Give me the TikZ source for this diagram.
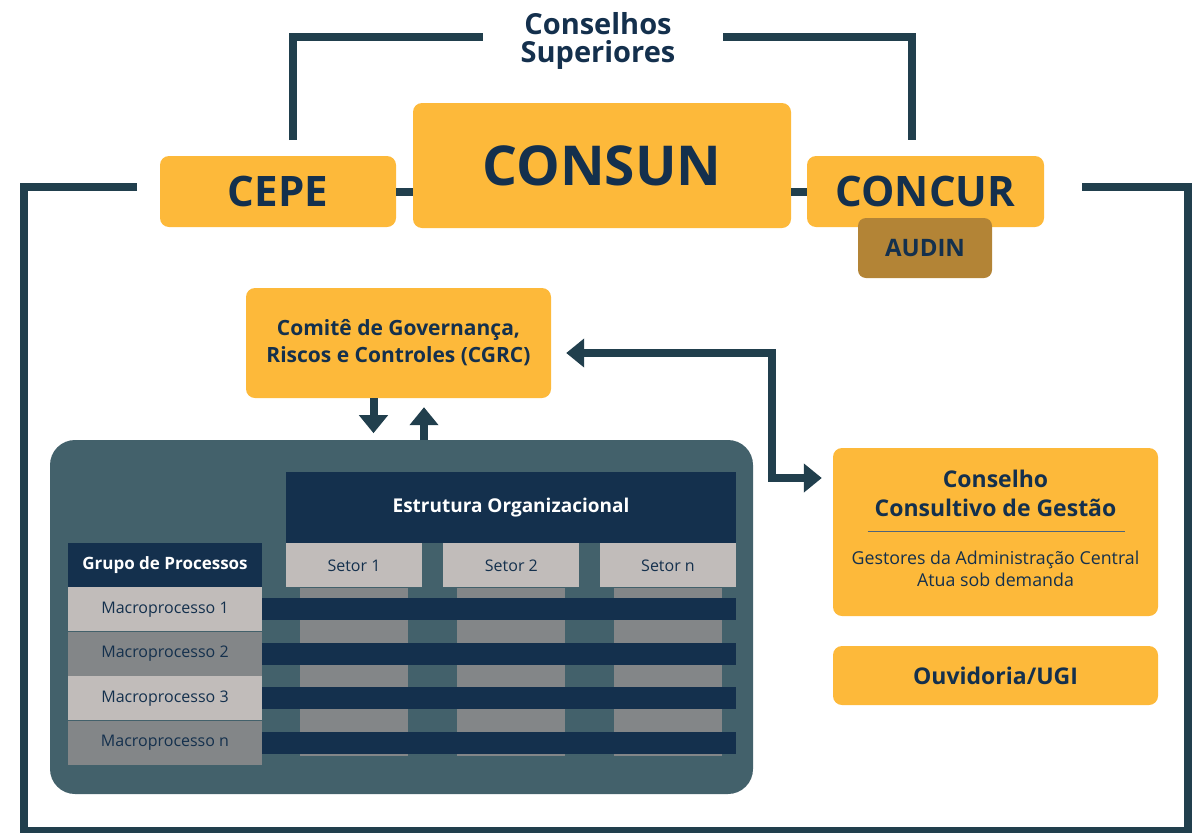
\documentclass[tikz,border=0pt]{standalone}
\usepackage{fontspec}
\setmainfont{Open Sans}
\usetikzlibrary{arrows.meta}
\usetikzlibrary{calc}
\usetikzlibrary{positioning}
\definecolor{govyellow}{HTML}{FDB93A}
\definecolor{govnavy}{HTML}{14304D}
\definecolor{linecol}{HTML}{213F4D}
\definecolor{panelcol}{HTML}{43616B}
\definecolor{brown}{HTML}{B38436}
\definecolor{lightgray}{HTML}{C1BCBA}
\definecolor{midgray}{HTML}{838688}
\tikzset{
  box/.style={fill=govyellow,text=govnavy,rounded corners=9pt,align=center,inner sep=0pt},
  link/.style={draw=linecol,line width=8pt},
  flow/.style={link,-{Triangle[width=28pt,length=18pt]}},
  twoway/.style={link,{Triangle[width=28pt,length=18pt]}-{Triangle[width=28pt,length=18pt]}},
  head/.style={fill=govnavy,text=white,inner sep=0pt,font=\bfseries\fontsize{17}{20}\selectfont},
  cell/.style={fill=#1,text=govnavy,inner sep=0pt,minimum width=194,minimum height=44,font=\fontsize{16}{18}\selectfont},
  cell/.default=lightgray,
  setorbox/.style={fill=lightgray,text=govnavy,inner sep=0pt,minimum width=136,minimum height=44,font=\fontsize{16}{18}\selectfont},
  column/.style={fill=midgray,inner sep=0pt,minimum width=108,minimum height=168},
  bar/.style={fill=govnavy,inner sep=0pt,minimum width=474,minimum height=22}
}

\begin{document}
\begin{tikzpicture}[x=1pt,y=-1pt]
  \useasboundingbox (0,0) rectangle (1192,833);
  \coordinate (FL)  at (137,187);   % frame, left end
  \coordinate (FBL) at (23.5,831);  % frame, bottom left corner
  \coordinate (FBR) at (1188,831);  % frame, bottom right corner
  \coordinate (FR)  at (1082,187);  % frame, right end
  \coordinate (TL)  at (293,140);   % bracket, left foot
  \coordinate (TLe) at (483,37);    % bracket, left end
  \coordinate (TRe) at (723,37);    % bracket, right end
  \coordinate (TR)  at (912,140);   % bracket, right foot

  % COUNCILS
  \node[text=govnavy,align=center,font=\bfseries\fontsize{29}{28}\selectfont] (cs) at (598,41) {Conselhos\\Superiores};
  \node[box,minimum width=378,minimum height=125,font=\bfseries\fontsize{55}{60}\selectfont] (consun) at (602,165.5) {CONSUN};
  \node[box,minimum width=236,minimum height=71,font=\bfseries\fontsize{42}{44}\selectfont] (cepe) at (278,191.5) {CEPE};
  \node[box,minimum width=237,minimum height=71,font=\bfseries\fontsize{42}{44}\selectfont] (concur) at (925.5,191.5) {CONCUR};
  \node[box,fill=brown,rounded corners=8pt,minimum width=134,minimum height=60,font=\bfseries\fontsize{24}{26}\selectfont] (audin) at (925,248) {AUDIN};

  % LINES
  \draw[link] (cepe.east) -- (cepe.east -| consun.west);
  \draw[link] (consun.east |- concur.west) -- (concur.west);
  \draw[link] (TL) |- (TLe);
  \draw[link] (TRe) -| (TR);
  \draw[link] (FL) -| (FBL) -- (FBR) |- (FR); % outer frame

  % COMMITTEE
  \node[box,minimum width=305,minimum height=110,font=\bfseries\fontsize{21}{27}\selectfont] (cgrc) at (398.5,343) {Comitê de Governança,\\Riscos e Controles (CGRC)};
  \node[box,minimum width=325,minimum height=168] (ccg) at (995.5,532) {};
  \node[text=govnavy,align=center,font=\bfseries\fontsize{23}{29}\selectfont] (ccgtitle) at ($(ccg.north)+(0,46)$) {Conselho\\Consultivo de Gestão};
  \draw[govnavy!75,line width=1.2pt] ($(ccg.north)+(-128,84)$) -- ++(257,0);
  \node[text=govnavy,align=center,font=\fontsize{17.8}{22}\selectfont] (ccgsub) at ($(ccg.north)+(0,121)$) {Gestores da Administração Central\\Atua sob demanda};
  \node[box,minimum width=325,minimum height=59,font=\bfseries\fontsize{23}{25}\selectfont] (ouv) at (995.5,675.5) {Ouvidoria/UGI};

  % PANEL
  \node[fill=panelcol,rounded corners=25pt,minimum width=703,minimum height=354,inner sep=0pt] (panel) at (401.5,617) {};
  \node[head,minimum width=450,minimum height=71,font=\bfseries\fontsize{19}{21}\selectfont] (org) at (511,507.5) {Estrutura Organizacional};
  \node[setorbox,anchor=north west] (s1) at (org.south west) {Setor 1};
  \node[setorbox,anchor=north east] (s3) at (org.south east) {Setor n};
  \node[setorbox,right=21pt of s1] (s2) {Setor 2};
  \foreach \s in {s1,s2,s3}
    \node[column,anchor=north] at (\s.south) {};
  \node[head,minimum width=194,minimum height=44] (grp) at (165,565) {Grupo de Processos};
  \node[cell,below=0pt of grp] (m1) {Macroprocesso 1};
  \node[cell=midgray,below=0pt of m1] (m2) {Macroprocesso 2};
  \node[cell,below=0pt of m2] (m3) {Macroprocesso 3};
  \node[cell=midgray,below=0pt of m3] (m4) {Macroprocesso n};
  \foreach \i in {1,...,4}
    \node[bar,anchor=west] (bar\i) at (m\i.east) {};

  % ARROWS
  \draw[flow] ($(cgrc.south)+(-25,0)$) -- ++(0,35);
  \draw[flow] ($(cgrc.south)+(25.5,42)$) -- ++(0,-33);
  \draw[twoway] ($(cgrc.east)+(15,10)$) -- ++(206,0) |- ($(ccg.west)+(-11,-54)$);
\end{tikzpicture}
\end{document}
